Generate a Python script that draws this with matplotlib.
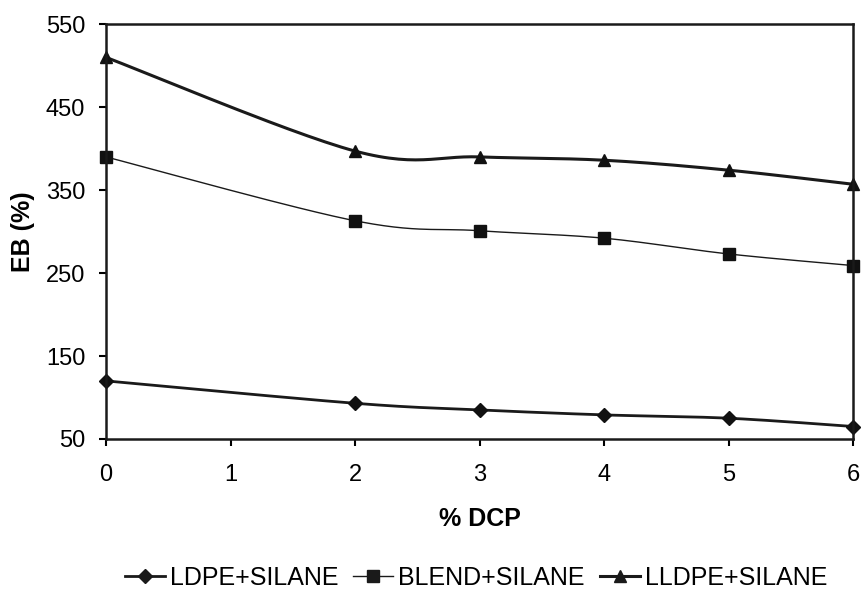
import numpy as np
import matplotlib
matplotlib.use("Agg")
import matplotlib.pyplot as plt

plt.rcParams['font.family'] = ['Liberation Sans', 'DejaVu Sans']

# values
dcp = [0, 2, 3, 4, 5, 6]
ldpe = [120, 93, 85, 79, 75, 65]
blend = [390, 313, 301, 292, 273, 259]
lldpe = [510, 397, 390, 386, 374, 357]
labels = ['LDPE+SILANE', 'BLEND+SILANE', 'LLDPE+SILANE']
yticks = [50, 150, 250, 350, 450, 550]


def smooth(x, y, n=30):
    # excel-like smoothed line: cubic bezier with catmull-rom control points
    x = np.asarray(x, float)
    y = np.asarray(y, float)
    px = np.concatenate([[x[0]], x, [x[-1]]])
    py = np.concatenate([[y[0]], y, [y[-1]]])
    xs, ys = [], []
    t = np.linspace(0, 1, n)
    for i in range(len(x) - 1):
        p0 = np.array([px[i + 1], py[i + 1]])
        p3 = np.array([px[i + 2], py[i + 2]])
        p1 = p0 + (p3 - np.array([px[i], py[i]])) / 6
        p2 = p3 - (np.array([px[i + 3], py[i + 3]]) - p0) / 6
        b = ((1 - t) ** 3)[:, None] * p0 + (3 * (1 - t) ** 2 * t)[:, None] * p1 \
            + (3 * (1 - t) * t ** 2)[:, None] * p2 + (t ** 3)[:, None] * p3
        xs.extend(b[:, 0])
        ys.extend(b[:, 1])
    return xs, ys


fig = plt.figure(figsize=(8.62, 5.90), dpi=100)
ax = fig.add_axes([0.123, 0.256, 0.867, 0.703])

series = [(ldpe, 'D', 2.0, 7), (blend, 's', 1.0, 8), (lldpe, '^', 2.2, 8)]
handles = []
for vals, mk, lw, ms in series:
    sx, sy = smooth(dcp, vals)
    ax.plot(sx, sy, color='#1a1a1a', lw=lw)
    ax.plot(dcp, vals, ls='none', marker=mk, color='#111111', ms=ms, clip_on=False)
    h, = ax.plot([], [], color='#1a1a1a', lw=lw, marker=mk, ms=ms)
    handles.append(h)

ax.set_xlim(0, 6)
ax.set_ylim(50, 550)
ax.set_xticks(range(7))
ax.set_yticks(yticks)
ax.tick_params(direction='out', length=5, width=1.5, labelsize=17)
ax.tick_params(axis='x', pad=13)
ax.tick_params(axis='y', pad=10)
for s in ax.spines.values():
    s.set_linewidth(1.8)
    s.set_color('#1a1a1a')

ax.set_xlabel('% DCP', fontsize=18, fontweight='bold', labelpad=15)
ax.set_ylabel('EB (%)', fontsize=18, fontweight='bold', labelpad=8)

fig.legend(handles, labels, loc='center', bbox_to_anchor=(0.552, 0.02),
           ncol=3, frameon=False, fontsize=18, handlelength=1.6,
           handletextpad=0.2, columnspacing=0.6)

fig.savefig('out.png', dpi=100)
